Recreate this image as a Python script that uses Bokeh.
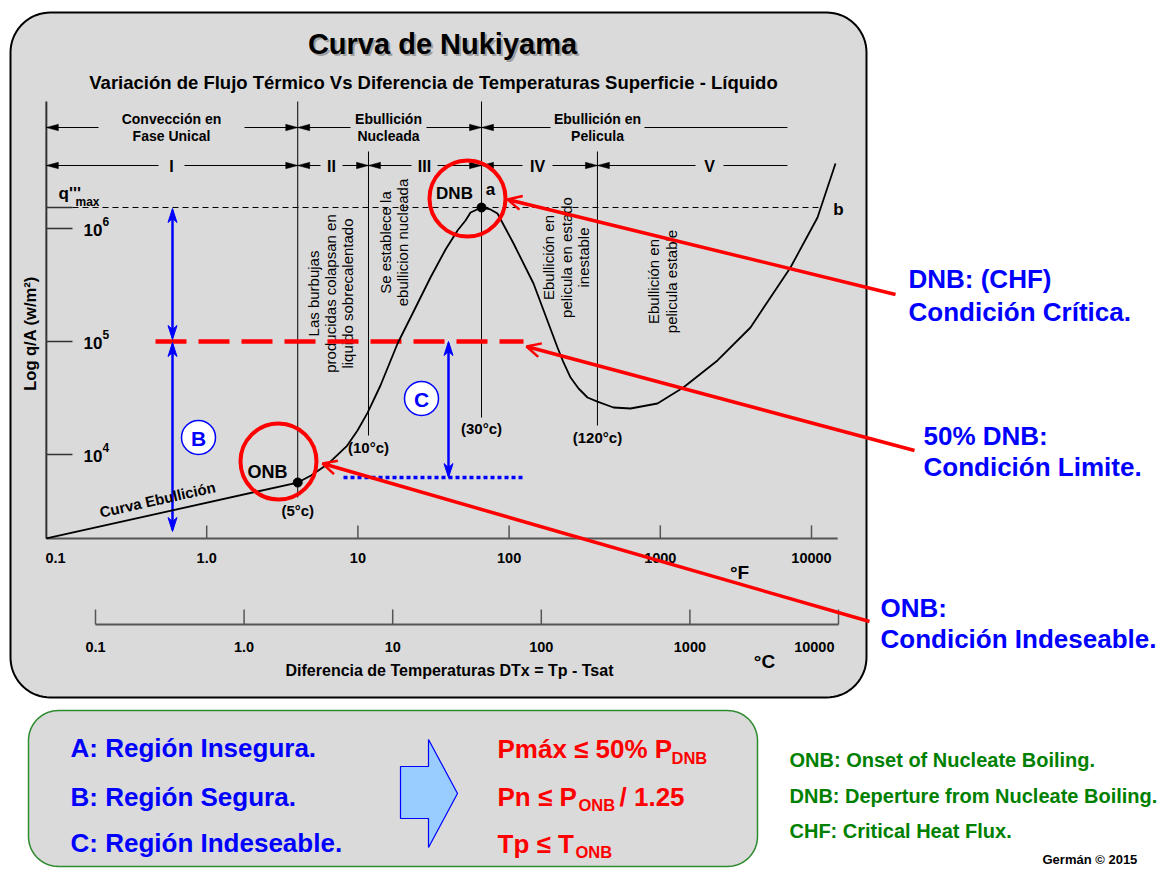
import numpy as np
from bokeh.plotting import figure
from bokeh.models import Range1d, Arrow, OpenHead
from bokeh.core.properties import value
from bokeh.embed import file_html
from bokeh.resources import INLINE

# ---------------- values ----------------
# boiling curve: wall superheat dT (°F) against heat flux q/A (W/m2)
dT_F = [0.087, 4.0, 4.9, 6.4, 8.5, 9.94, 11.6, 14.1, 18.3, 23.0, 30.2, 38.0, 45.6, 51.5, 55.6, 65.7,
        75.3, 83.8, 94.7, 107, 145, 209, 229, 255, 288, 330, 384, 490, 635, 958, 1420, 2390, 3950,
        7260, 10960, 14410]
q_flux = [1810, 5650, 6520, 8330, 12000, 16310, 23500, 40800, 96000, 176900, 368500, 652000, 960000,
          1177000, 1385000, 1534000, 1473000, 1358000, 1000000, 736700, 326000, 88500, 65200, 48000,
          38370, 31950, 29400, 26060, 25530, 28270, 39160, 67920, 133000, 451800, 1251000, 3761000]

dT_onb, q_onb = 4.0, 5650          # ONB point
dT_dnb, q_dnb = 65.7, 1534000      # DNB point (q'''max)
q_limit = 1.0e5                    # 50 % DNB limit
q_undesired = 6250                 # lower end of region C
F_axis = [0.087, 14900]            # extent of the °F axis
q_axis_min = 1810

boundary_F = [4.0, 11.75, 65.7, 384]
boundary_labels = ["(5°c)", "(10°c)", "(30°c)", "(120°c)"]
film_end_F = 6930

F_ticks = [0.1, 1.0, 10, 100, 1000, 10000]
F_tick_labels = ["0.1", "1.0", "10", "100", "1000", "10000"]
C_ticks = [0.1, 1.0, 10, 100, 1000, 10000]
C_tick_labels = ["0.1", "1.0", "10", "100", "1000", "10000"]
q_ticks = [1e4, 1e5, 1e6]
q_tick_exp = ["4", "5", "6"]

row1_labels = [["Convección en", "Fase Unical"], ["Ebullición", "Nucleada"], ["Ebullición en", "Pelicula"]]
row2_labels = ["I", "II", "III", "IV", "V"]

# ---------------- layout of the picture ----------------
W, H, OFF = 1170, 868, 0
FX0, FDEC = 55.0, 151.2      # picture x of 0.1 °F, px per decade
QY0, QDEC = 228.0, 113.0     # picture y of 1e6 W/m2, px per decade
CX0, CDEC = 95.0, 148.6      # °C scale
FONT = "Liberation Sans"
BLUE, RED, GREEN = "#0000ff", "#ff0000", "#008000"
GRAY = "#dadada"


def X(px):
    return 10 ** (-1 + (px - FX0) / FDEC)


def Y(py):
    return 10 ** (6 - (py - QY0) / QDEC)


def pxF(F):
    return FX0 + FDEC * (np.log10(F) + 1)


def pyQ(q):
    return QY0 - QDEC * (np.log10(q) - 6)


p = figure(width=W, height=H, x_axis_type="log", y_axis_type="log",
           x_range=Range1d(X(OFF), X(OFF + W)), y_range=Range1d(Y(OFF + H), Y(OFF)),
           x_axis_location=None, y_axis_location=None, toolbar_location=None,
           output_backend="svg", min_border=0, outline_line_color=None,
           background_fill_color="white", border_fill_color="white")
p.grid.visible = False


def T(px, py, s, size, color="black", align="center", base="middle", style="bold",
      angle=0.0, alpha=1.0, xd=None, yd=None):
    p.text(x=[xd if xd is not None else X(px)], y=[yd if yd is not None else Y(py)], text=[s],
           text_font=value(FONT), text_font_size=f"{size}px", text_font_style=style,
           text_color=color, text_align=align, text_baseline=base, angle=angle, text_alpha=alpha)


def seg(x0, y0, x1, y1, **kw):
    p.line([X(x0), X(x1)], [Y(y0), Y(y1)], **kw)


def rbox(x0, y0, x1, y1, r, n=18):
    xs, ys = [], []
    for cx, cy, a0 in [(x1 - r, y0 + r, -90), (x1 - r, y1 - r, 0), (x0 + r, y1 - r, 90), (x0 + r, y0 + r, 180)]:
        for a in np.linspace(np.radians(a0), np.radians(a0 + 90), n):
            xs.append(cx + r * np.cos(a))
            ys.append(cy + r * np.sin(a))
    return [X(v) for v in xs], [Y(v) for v in ys]


# ---------------- frames ----------------
bx, by = rbox(10, 12, 866, 697, 40)
p.patch(bx, by, fill_color=GRAY, line_color="black", line_width=2)
bx, by = rbox(28, 710, 757, 866, 30)
p.patch(bx, by, fill_color=GRAY, line_color="#2e8b2e", line_width=1.5)

# ---------------- titles ----------------
T(444, 45, "Curva de Nukiyama", 29, color="#777777", alpha=0.6)
T(442, 43, "Curva de Nukiyama", 29)
T(433, 82, "Variación de Flujo Térmico Vs Diferencia de Temperaturas Superficie - Líquido", 18.5)

# ---------------- axes ----------------
p.line([F_axis[0], F_axis[0]], [Y(101), q_axis_min], line_color="#333333", line_width=2)
p.line(F_axis, [q_axis_min, q_axis_min], line_color="#555555", line_width=2)
for f, lab in zip(F_ticks, F_tick_labels):
    if f > F_ticks[0]:
        p.line([f, f], [q_axis_min, Y(pyQ(q_axis_min) - 13)], line_color="#555555", line_width=1.5)
    T(0, 557, lab, 14.5, xd=f)
T(739, 572, "°F", 19)

cpx = [CX0 + CDEC * (np.log10(c) + 1) for c in C_ticks]
seg(cpx[0], 624, cpx[-1], 624, line_color="#555555", line_width=2)
for i, (x, lab) in enumerate(zip(cpx, C_tick_labels)):
    seg(x, 624, x, 609, line_color="#555555", line_width=1.5)
    if i == len(cpx) - 1:
        T(x - 4, 646, lab, 14.5, align="right")
    else:
        T(x, 646, lab, 14.5)
T(764, 661, "°C", 19)
T(449, 670, "Diferencia de Temperaturas DTx = Tp - Tsat", 16)

for q, e in zip(q_ticks, q_tick_exp):
    p.line([F_axis[0], X(72)], [q, q], line_color="#333333", line_width=1.5)
    T(83, pyQ(q) + 1, "10", 17, align="left")
    T(102, pyQ(q) - 7, e, 12, align="left")
T(29, 333, "Log q/A (w/m²)", 16.5, angle=np.pi / 2)

# q'''max line
p.line([F_axis[0], X(72)], [q_dnb, q_dnb], line_color="#333333", line_width=1.5)
p.line([X(72), X(822)], [q_dnb, q_dnb], line_color="black", line_width=1, line_dash="6 4")
T(58, 193, "q'''", 17, align="left")
T(75, 201, "max", 12, align="left")
T(838, 209, "b", 17)

# ---------------- region headers ----------------
def heads(points):
    xs, ys = [], []
    for bxp, byp, d in points:
        L, w = 12, 3.2
        xs.append([X(bxp), X(bxp - d * L), X(bxp - d * L)])
        ys.append([Y(byp), Y(byp - w), Y(byp + w)])
    p.patches(xs, ys, fill_color="black", line_color="black", line_width=0.5)


def header_row(bounds_px, centers, gaps, ypos, last_open=True):
    hp = []
    for i, c in enumerate(centers):
        a, b = bounds_px[i], bounds_px[i + 1]
        seg(a, ypos, c - gaps[i], ypos, line_color="black", line_width=1)
        seg(c + gaps[i], ypos, b, ypos, line_color="black", line_width=1)
        hp.append((a, ypos, -1))
        if not (last_open and i == len(centers) - 1):
            hp.append((b, ypos, 1))
    heads(hp)


row1_bounds = [pxF(F_axis[0]), pxF(dT_onb), pxF(dT_dnb), pxF(film_end_F)]
row1_centers = [171, 388, 597]
header_row(row1_bounds, row1_centers, [73, 38, 47], 127)
for c, (l1, l2) in zip(row1_centers, row1_labels):
    T(c, 118, l1, 14)
    T(c, 135, l2, 14)

row2_bounds = [pxF(F_axis[0])] + [pxF(f) for f in boundary_F] + [pxF(film_end_F)]
row2_centers = [171, 331, 424, 537, 709]
header_row(row2_bounds, row2_centers, [13, 11, 13, 15, 14], 165)
for c, lab in zip(row2_centers, row2_labels):
    T(c, 166, lab, 16)

# boundary lines
tops = [101, 151, 101, 151]
bottoms = [497, 435, 417, 425]
lab_y = [510, 447, 428, 437]
for f, t, b, lab, ly in zip(boundary_F, tops, bottoms, boundary_labels, lab_y):
    p.line([f, f], [Y(t), Y(b)], line_color="black", line_width=1)
    T(0, ly, lab, 15, xd=f)

# vertical notes
notes = [([313, 330, 347], 293, ["Las burbujas", "producidas colapsan en", "liquido sobrecalentado"]),
         ([385, 402], 242, ["Se establece la", "ebullicion nucleada"]),
         ([548, 566, 583], 257, ["Ebullición en", "pelicula en estado", "inestable"]),
         ([653, 671], 281, ["Ebullición en", "pelicula estable"])]
for xs_, yc, lines in notes:
    for x, s in zip(xs_, lines):
        T(x, yc, s, 15, style="normal", angle=np.pi / 2)

# ---------------- limit lines & region arrows ----------------
p.line([X(155), X(523)], [q_limit, q_limit], line_color=RED, line_width=4.5, line_dash="31 12")
p.line([X(343), X(523)], [q_undesired, q_undesired], line_color=BLUE, line_width=3.5, line_dash="4 3")


def blue_arrow(x, y0, y1):
    seg(x, y0 + 2, x, y1 - 2, line_color=BLUE, line_width=2.5)
    xs, ys = [], []
    for ytip, d in [(y0, -1), (y1, 1)]:
        L, w, n = 14, 4.5, 10
        pts = [(x, ytip), (x + w, ytip - d * L), (x, ytip - d * n), (x - w, ytip - d * L)]
        xs.append([X(a) for a, _ in pts])
        ys.append([Y(b) for _, b in pts])
    p.patches(xs, ys, fill_color=BLUE, line_color=BLUE, line_width=1)


blue_arrow(172, pyQ(q_dnb) + 1, pyQ(q_limit) - 2)
blue_arrow(172, pyQ(q_limit) + 1, 531)
blue_arrow(448, pyQ(q_limit), pyQ(q_undesired))

for cx, cy, s in [(198, 437, "B"), (421, 398, "C")]:
    p.scatter([X(cx)], [Y(cy)], size=34, marker="circle", fill_color="white", line_color=BLUE, line_width=1.5)
    T(cx, cy + 1, s, 21, color=BLUE)

# ---------------- boiling curve ----------------
p.line(dT_F, q_flux, line_color="black", line_width=1.8)
T(157, 499, "Curva Ebullición", 15, angle=np.arctan2(56, 251))
p.scatter([dT_onb, dT_dnb], [q_onb, q_dnb], size=9, marker="circle", fill_color="black", line_color="black")

# red circles
p.scatter([X(467), X(278)], [Y(198), Y(461)], size=76, marker="circle", fill_alpha=0,
          line_color=RED, line_width=4)
T(454, 193, "DNB", 17)
T(490, 189, "a", 17)
T(267, 471, "ONB", 18)

# leader lines
for (x0, y0), (x1, y1) in [((895, 294), (507, 199)), ((914, 450), (526, 346)), ((869, 621), (322, 463))]:
    p.add_layout(Arrow(end=OpenHead(size=14, line_color=RED, line_width=2.5),
                       x_start=X(x0), y_start=Y(y0), x_end=X(x1), y_end=Y(y1),
                       line_color=RED, line_width=3.5))

# right-hand notes
T(908, 278, "DNB: (CHF)", 26, color=BLUE, align="left")
T(908, 311, "Condición Crítica.", 26, color=BLUE, align="left")
T(923, 435, "50% DNB:", 26, color=BLUE, align="left")
T(923, 466, "Condición Limite.", 26, color=BLUE, align="left")
T(880, 607, "ONB:", 26, color=BLUE, align="left")
T(880, 638, "Condición Indeseable.", 26, color=BLUE, align="left")

# ---------------- bottom box ----------------
T(70, 747, "A: Región Insegura.", 26, color=BLUE, align="left")
T(70, 796, "B: Región Segura.", 26, color=BLUE, align="left")
T(70, 842, "C: Región Indeseable.", 26, color=BLUE, align="left")

ax_ = [400, 428, 428, 457, 428, 428, 400]
ay_ = [766, 766, 739, 793, 847, 818, 818]
p.patch([X(v) for v in ax_], [Y(v) for v in ay_], fill_color="#99ccff", line_color=BLUE, line_width=1.2)

T(497, 748, "Pmáx ≤ 50% P", 26, color=RED, align="left")
T(671, 757, "DNB", 16.5, color=RED, align="left")
T(497, 796, "Pn ≤ P", 26, color=RED, align="left")
T(578, 804, "ONB", 16.5, color=RED, align="left")
T(619, 796, " / 1.25", 26, color=RED, align="left")
T(497, 843, "Tp ≤ T", 26, color=RED, align="left")
T(575, 851, "ONB", 16.5, color=RED, align="left")

T(789, 759, "ONB: Onset of Nucleate Boiling.", 20, color=GREEN, align="left")
T(789, 795, "DNB: Deperture from Nucleate Boiling.", 20, color=GREEN, align="left")
T(789, 830, "CHF: Critical Heat Flux.", 20, color=GREEN, align="left")
T(1042, 866, "Germán © 2015", 13, align="left", base="bottom")

open("out.html", "w").write(file_html(p, INLINE))
